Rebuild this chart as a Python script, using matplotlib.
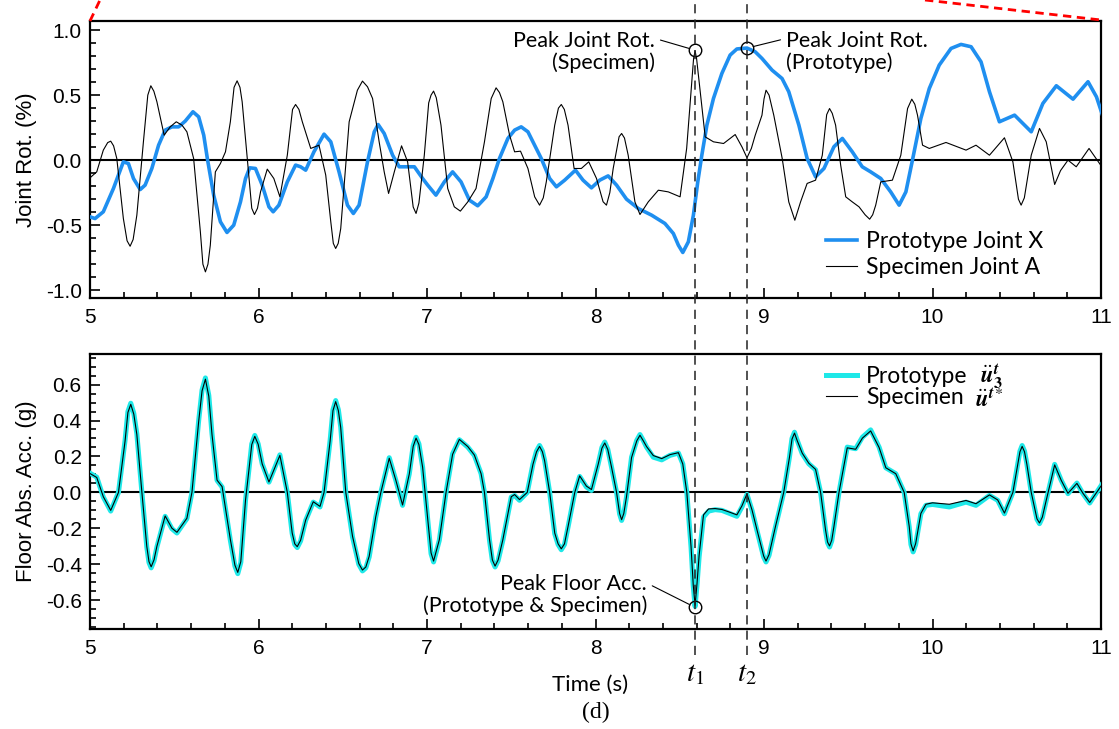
import matplotlib.pyplot as plt
import matplotlib.transforms as mtransforms
from matplotlib.lines import Line2D
from matplotlib.ticker import MultipleLocator, FuncFormatter

plt.rcParams['font.family'] = 'Liberation Sans'
plt.rcParams['mathtext.fontset'] = 'stix'
plt.rcParams['axes.unicode_minus'] = False

# ---- Joint rotation (%) ----
t_rot_x = [5.000, 5.030, 5.079, 5.139, 5.198, 5.228, 5.258, 5.298, 5.327, 5.367,
           5.407, 5.446, 5.486, 5.526, 5.565, 5.611, 5.645, 5.675, 5.698, 5.734,
           5.774, 5.813, 5.853, 5.893, 5.923, 5.948, 5.982, 6.022, 6.062, 6.087,
           6.121, 6.171, 6.220, 6.250, 6.280, 6.329, 6.389, 6.429, 6.478, 6.528,
           6.563, 6.597, 6.647, 6.687, 6.710, 6.746, 6.796, 6.835, 6.885, 6.925,
           6.974, 7.004, 7.053, 7.103, 7.152, 7.202, 7.252, 7.301, 7.351, 7.391,
           7.430, 7.480, 7.520, 7.559, 7.599, 7.639, 7.678, 7.728, 7.768, 7.817,
           7.881, 7.926, 7.976, 8.025, 8.075, 8.125, 8.184, 8.254, 8.333, 8.412,
           8.462, 8.492, 8.518, 8.551, 8.581, 8.607, 8.631, 8.661, 8.700, 8.750,
           8.799, 8.839, 8.899, 8.948, 8.988, 9.048, 9.107, 9.147, 9.207, 9.256,
           9.306, 9.356, 9.415, 9.465, 9.524, 9.583, 9.633, 9.693, 9.752, 9.802,
           9.842, 9.881, 9.931, 9.981, 10.040, 10.110, 10.169, 10.229, 10.288, 10.338,
           10.397, 10.487, 10.586, 10.655, 10.735, 10.834, 10.923, 10.973, 11.022]
rot_x = [-0.436, -0.449, -0.397, -0.218, -0.013, -0.026, -0.141, -0.226, -0.192, -0.064,
         0.115, 0.231, 0.256, 0.256, 0.300, 0.372, 0.333, 0.192, 0.000, -0.269,
         -0.474, -0.556, -0.500, -0.321, -0.141, -0.059, -0.064, -0.192, -0.359, -0.397,
         -0.346, -0.167, -0.038, -0.051, -0.077, 0.064, 0.200, 0.141, -0.090, -0.346,
         -0.410, -0.346, -0.013, 0.218, 0.274, 0.205, 0.038, -0.051, -0.051, -0.051,
         -0.141, -0.192, -0.269, -0.167, -0.090, -0.167, -0.308, -0.351, -0.282, -0.141,
         0.013, 0.167, 0.231, 0.256, 0.218, 0.115, 0.013, -0.141, -0.205, -0.154,
         -0.077, -0.154, -0.213, -0.154, -0.121, -0.192, -0.300, -0.372, -0.423, -0.487,
         -0.564, -0.654, -0.710, -0.628, -0.423, -0.167, 0.038, 0.269, 0.474, 0.667,
         0.808, 0.855, 0.862, 0.833, 0.782, 0.692, 0.628, 0.526, 0.269, 0.013,
         -0.128, -0.064, 0.103, 0.167, 0.064, -0.051, -0.090, -0.141, -0.244, -0.346,
         -0.244, 0.000, 0.321, 0.551, 0.731, 0.859, 0.890, 0.872, 0.756, 0.526,
         0.295, 0.346, 0.218, 0.436, 0.572, 0.469, 0.603, 0.487, 0.295]

t_rot_a = [5.000, 5.040, 5.079, 5.105, 5.123, 5.140, 5.159, 5.198, 5.220, 5.238,
           5.256, 5.278, 5.317, 5.343, 5.361, 5.379, 5.397, 5.440, 5.476, 5.512,
           5.546, 5.575, 5.615, 5.655, 5.670, 5.685, 5.700, 5.714, 5.744, 5.774,
           5.804, 5.833, 5.855, 5.873, 5.890, 5.903, 5.942, 5.960, 5.976, 5.994,
           6.012, 6.052, 6.091, 6.127, 6.171, 6.202, 6.220, 6.240, 6.260, 6.310,
           6.359, 6.399, 6.429, 6.444, 6.458, 6.473, 6.488, 6.538, 6.587, 6.617,
           6.647, 6.677, 6.716, 6.746, 6.772, 6.806, 6.849, 6.885, 6.918, 6.935,
           6.952, 6.984, 7.010, 7.024, 7.039, 7.055, 7.083, 7.123, 7.162, 7.198,
           7.242, 7.291, 7.341, 7.381, 7.410, 7.430, 7.450, 7.490, 7.520, 7.555,
           7.599, 7.639, 7.668, 7.690, 7.708, 7.758, 7.780, 7.797, 7.815, 7.837,
           7.873, 7.916, 7.960, 8.006, 8.045, 8.065, 8.085, 8.105, 8.140, 8.155,
           8.172, 8.194, 8.234, 8.264, 8.313, 8.373, 8.432, 8.502, 8.541, 8.571,
           8.582, 8.591, 8.600, 8.615, 8.651, 8.700, 8.760, 8.829, 8.870, 8.899,
           8.925, 8.948, 8.988, 9.000, 9.012, 9.030, 9.058, 9.108, 9.147, 9.183,
           9.217, 9.256, 9.306, 9.346, 9.372, 9.389, 9.405, 9.425, 9.455, 9.485,
           9.524, 9.564, 9.600, 9.627, 9.645, 9.663, 9.693, 9.762, 9.812, 9.852,
           9.877, 9.895, 9.911, 9.941, 9.981, 10.080, 10.199, 10.258, 10.338, 10.427,
           10.477, 10.510, 10.526, 10.545, 10.586, 10.635, 10.675, 10.725, 10.760, 10.804,
           10.853, 10.929, 11.012]
rot_a = [-0.136, -0.090, 0.077, 0.135, 0.146, 0.110, 0.013, -0.449, -0.620, -0.662,
         -0.610, -0.423, 0.141, 0.500, 0.572, 0.530, 0.449, 0.192, 0.256, 0.295,
         0.269, 0.218, 0.013, -0.551, -0.800, -0.859, -0.800, -0.654, -0.090, -0.026,
         0.064, 0.295, 0.560, 0.610, 0.560, 0.449, -0.115, -0.370, -0.418, -0.370,
         -0.244, -0.069, -0.141, -0.282, 0.038, 0.390, 0.428, 0.390, 0.295, 0.090,
         0.115, -0.115, -0.474, -0.640, -0.679, -0.640, -0.526, 0.295, 0.538, 0.608,
         0.564, 0.474, 0.141, -0.090, -0.256, -0.090, 0.110, -0.013, -0.360, -0.410,
         -0.330, 0.038, 0.440, 0.500, 0.531, 0.480, 0.269, -0.218, -0.359, -0.392,
         -0.321, -0.218, 0.141, 0.474, 0.556, 0.520, 0.449, 0.192, 0.064, 0.069,
         -0.064, -0.282, -0.346, -0.290, -0.167, 0.269, 0.400, 0.428, 0.390, 0.269,
         -0.064, -0.064, -0.013, -0.141, -0.320, -0.346, -0.250, -0.064, 0.180, 0.205,
         0.170, 0.038, -0.321, -0.418, -0.321, -0.231, -0.244, -0.282, 0.090, 0.603,
         0.780, 0.840, 0.780, 0.603, 0.179, 0.141, 0.128, 0.197, 0.100, 0.018,
         0.090, 0.192, 0.346, 0.470, 0.538, 0.500, 0.346, 0.013, -0.321, -0.462,
         -0.321, -0.179, -0.154, 0.038, 0.350, 0.397, 0.360, 0.269, -0.038, -0.282,
         -0.321, -0.359, -0.420, -0.454, -0.420, -0.346, -0.167, -0.154, 0.038, 0.397,
         0.469, 0.430, 0.346, 0.115, 0.090, 0.136, 0.077, 0.115, 0.038, 0.172,
         -0.013, -0.300, -0.346, -0.290, 0.038, 0.244, 0.141, -0.187, -0.080, 0.000,
         -0.051, 0.090, -0.064]

# ---- Floor absolute acceleration (g) ----
t_acc = [5.000, 5.040, 5.079, 5.123, 5.169, 5.208, 5.225, 5.242, 5.260, 5.278,
         5.308, 5.337, 5.350, 5.363, 5.380, 5.397, 5.446, 5.486, 5.516, 5.575,
         5.605, 5.645, 5.665, 5.685, 5.705, 5.724, 5.754, 5.784, 5.833, 5.860,
         5.877, 5.895, 5.923, 5.960, 5.978, 5.998, 6.022, 6.062, 6.127, 6.171,
         6.200, 6.215, 6.230, 6.250, 6.280, 6.325, 6.365, 6.389, 6.425, 6.442,
         6.458, 6.474, 6.488, 6.518, 6.558, 6.595, 6.617, 6.637, 6.657, 6.696,
         6.726, 6.776, 6.815, 6.855, 6.895, 6.918, 6.935, 6.952, 6.974, 7.024,
         7.039, 7.073, 7.113, 7.152, 7.192, 7.242, 7.281, 7.321, 7.341, 7.371,
         7.388, 7.404, 7.422, 7.450, 7.500, 7.520, 7.549, 7.595, 7.629, 7.650,
         7.668, 7.685, 7.698, 7.728, 7.758, 7.778, 7.797, 7.816, 7.837, 7.877,
         7.906, 7.946, 7.976, 8.016, 8.038, 8.055, 8.073, 8.095, 8.125, 8.143,
         8.155, 8.168, 8.184, 8.214, 8.245, 8.264, 8.283, 8.303, 8.343, 8.393,
         8.442, 8.492, 8.518, 8.542, 8.567, 8.580, 8.591, 8.602, 8.615, 8.641,
         8.671, 8.710, 8.750, 8.790, 8.839, 8.869, 8.899, 8.929, 8.958, 8.988,
         8.998, 9.012, 9.030, 9.068, 9.117, 9.151, 9.166, 9.181, 9.197, 9.227,
         9.266, 9.306, 9.336, 9.365, 9.377, 9.389, 9.402, 9.415, 9.445, 9.494,
         9.544, 9.584, 9.633, 9.683, 9.723, 9.782, 9.832, 9.862, 9.872, 9.885,
         9.900, 9.931, 9.961, 10.000, 10.100, 10.199, 10.258, 10.338, 10.387, 10.427,
         10.477, 10.506, 10.519, 10.532, 10.546, 10.560, 10.586, 10.620, 10.635, 10.652,
         10.675, 10.725, 10.764, 10.804, 10.857, 10.893, 10.933, 11.008]
proto_acc = [0.107, 0.085, -0.026, -0.104, 0.000, 0.289, 0.450, 0.496, 0.440, 0.326,
             0.000, -0.304, -0.390, -0.420, -0.380, -0.304, -0.133, -0.202, -0.226, -0.146,
             0.000, 0.400, 0.570, 0.637, 0.540, 0.326, 0.067, 0.030, -0.267, -0.410,
             -0.452, -0.390, -0.044, 0.270, 0.317, 0.270, 0.159, 0.057, 0.209, 0.000,
             -0.230, -0.290, -0.307, -0.270, -0.156, -0.054, -0.081, 0.000, 0.289, 0.460,
             0.511, 0.460, 0.363, 0.000, -0.248, -0.400, -0.437, -0.420, -0.359, -0.137,
             0.000, 0.193, 0.067, -0.072, 0.104, 0.260, 0.307, 0.270, 0.141, -0.341,
             -0.387, -0.267, 0.000, 0.215, 0.293, 0.252, 0.206, 0.104, 0.000, -0.267,
             -0.380, -0.415, -0.380, -0.267, -0.026, -0.017, -0.044, 0.000, 0.159, 0.230,
             0.261, 0.230, 0.178, 0.000, -0.230, -0.290, -0.319, -0.290, -0.193, 0.000,
             0.089, 0.030, 0.011, 0.159, 0.250, 0.280, 0.240, 0.141, 0.000, -0.120,
             -0.156, -0.120, -0.026, 0.196, 0.290, 0.322, 0.290, 0.252, 0.196, 0.181,
             0.206, 0.219, 0.159, 0.000, -0.304, -0.520, -0.635, -0.520, -0.359, -0.137,
             -0.104, -0.096, -0.100, -0.115, -0.133, -0.081, -0.011, -0.100, -0.211, -0.322,
             -0.360, -0.387, -0.350, -0.193, 0.000, 0.196, 0.300, 0.335, 0.290, 0.215,
             0.159, 0.126, 0.000, -0.211, -0.280, -0.304, -0.270, -0.193, 0.000, 0.252,
             0.243, 0.307, 0.348, 0.252, 0.137, 0.104, 0.000, -0.193, -0.290, -0.331,
             -0.290, -0.119, -0.072, -0.067, -0.081, -0.054, -0.072, -0.017, -0.044, -0.119,
             0.000, 0.159, 0.230, 0.261, 0.230, 0.159, 0.000, -0.150, -0.174, -0.140,
             -0.044, 0.156, 0.067, -0.007, 0.052, -0.007, -0.059, 0.048]
spec_acc = [0.105, 0.083, -0.024, -0.100, 0.000, 0.285, 0.445, 0.490, 0.435, 0.322,
            0.000, -0.300, -0.385, -0.414, -0.375, -0.300, -0.131, -0.199, -0.222, -0.144,
            0.000, 0.395, 0.565, 0.630, 0.535, 0.322, 0.068, 0.032, -0.262, -0.405,
            -0.445, -0.385, -0.043, 0.266, 0.312, 0.268, 0.158, 0.058, 0.206, 0.000,
            -0.226, -0.286, -0.302, -0.266, -0.154, -0.052, -0.078, 0.000, 0.285, 0.455,
            0.505, 0.455, 0.360, 0.000, -0.244, -0.396, -0.432, -0.415, -0.355, -0.135,
            0.000, 0.190, 0.068, -0.070, 0.103, 0.256, 0.302, 0.266, 0.140, -0.336,
            -0.382, -0.264, 0.000, 0.212, 0.295, 0.255, 0.208, 0.104, 0.000, -0.263,
            -0.376, -0.410, -0.376, -0.264, -0.024, -0.012, -0.040, 0.000, 0.157, 0.226,
            0.256, 0.226, 0.176, 0.000, -0.226, -0.286, -0.314, -0.286, -0.190, 0.000,
            0.092, 0.035, 0.016, 0.157, 0.246, 0.275, 0.238, 0.141, 0.000, -0.117,
            -0.152, -0.117, -0.024, 0.194, 0.287, 0.318, 0.288, 0.255, 0.205, 0.188,
            0.210, 0.221, 0.158, 0.000, -0.300, -0.515, -0.628, -0.512, -0.350, -0.125,
            -0.092, -0.090, -0.095, -0.108, -0.125, -0.075, -0.008, -0.098, -0.207, -0.316,
            -0.354, -0.382, -0.346, -0.190, 0.000, 0.194, 0.296, 0.330, 0.288, 0.218,
            0.162, 0.128, 0.000, -0.207, -0.276, -0.298, -0.266, -0.190, 0.000, 0.248,
            0.240, 0.302, 0.342, 0.250, 0.137, 0.104, 0.000, -0.190, -0.285, -0.325,
            -0.285, -0.117, -0.066, -0.058, -0.066, -0.045, -0.063, -0.014, -0.042, -0.115,
            0.000, 0.157, 0.226, 0.256, 0.226, 0.157, 0.000, -0.147, -0.170, -0.137,
            -0.044, 0.153, 0.067, -0.005, 0.050, -0.005, -0.056, 0.046]

t1 = 8.59   # time of peak specimen rotation / peak floor acc.
t2 = 8.90   # time of peak prototype rotation
peak_rot_spec = 0.846
peak_rot_proto = 0.862
peak_acc = -0.639

W, H = 1119, 729
fig = plt.figure(figsize=(W / 100, H / 100), dpi=100)
ax1 = fig.add_axes([90 / W, 1 - 298 / H, 1011 / W, 277 / H])
ax2 = fig.add_axes([90 / W, 1 - 629 / H, 1011 / W, 275 / H])

ax1.plot(t_rot_x, rot_x, color='#1f8ff0', lw=2.6, label='Prototype Joint X', zorder=3)
ax1.plot(t_rot_a, rot_a, color='black', lw=0.8, label='Specimen Joint A', zorder=4)
ax2.plot(t_acc, proto_acc, color='#1ee8e8', lw=3.6, zorder=3, label='Prototype')
ax2.plot(t_acc, spec_acc, color='black', lw=0.8, zorder=4, label='Specimen')

ax1.set_ylim(-1.06, 1.07)
ax2.set_ylim(-0.76, 0.77)
ax1.yaxis.set_major_locator(MultipleLocator(0.5))
ax1.yaxis.set_minor_locator(MultipleLocator(0.1))
ax2.yaxis.set_major_locator(MultipleLocator(0.2))
ax2.yaxis.set_minor_locator(MultipleLocator(0.05))

for ax in (ax1, ax2):
    ax.set_xlim(5, 11)
    ax.xaxis.set_major_locator(MultipleLocator(1))
    ax.xaxis.set_minor_locator(MultipleLocator(0.2))
    ax.xaxis.set_major_formatter(FuncFormatter(lambda v, p: f'{v:.0f}'))
    ax.yaxis.set_major_formatter(FuncFormatter(lambda v, p: f'{v:.1f}'))
    ax.tick_params(which='both', direction='in', top=False, right=False, width=1.2)
    ax.tick_params(which='major', length=7, labelsize=15, pad=6)
    ax.tick_params(axis='x', which='major', pad=7)
    ax.tick_params(which='minor', length=4)
    ax.axhline(0, color='black', lw=1.5, zorder=2)
    for s in ax.spines.values():
        s.set_linewidth(1.6)

ax1.set_ylabel('Joint Rot. (%)', fontsize=16)
ax2.set_ylabel('Floor Abs. Acc. (g)', fontsize=16)
ax1.yaxis.set_label_coords(-0.052, 0.5)
ax2.yaxis.set_label_coords(-0.052, 0.5)

leg_kw = dict(frameon=False, prop=dict(family='Lato', size=16.5), handlelength=1.35,
              handletextpad=0.4, borderpad=0, borderaxespad=0)
ax1.legend(loc='upper left', bbox_to_anchor=((826 - 90) / 1011, (298 - 231) / 277),
           labelspacing=0.22, **leg_kw)
ax2.legend(loc='upper left', bbox_to_anchor=((826 - 90) / 1011, (629 - 366) / 275),
           labelspacing=0.0, **leg_kw)
# response symbols next to the lower legend entries
fig.text(980 / W, 1 - 383 / H, r'$\ddot{\mathbfit{u}}_{\mathbf{3}}^{\mathbfit{t}}$',
         ha='left', va='baseline', fontsize=16.5)
fig.text(975 / W, 1 - 407 / H, r'$\ddot{\mathbfit{u}}^{\mathbfit{t}*}$',
         ha='left', va='baseline', fontsize=16.5)

# peak markers and callouts
mk = dict(marker='o', ms=9, mfc='none', mec='black', mew=1.0, zorder=6)
ax1.plot([t1], [peak_rot_spec], **mk)
ax1.plot([t2], [peak_rot_proto], **mk)
ax2.plot([t1], [peak_acc], **mk)

ann = dict(textcoords='figure pixels', va='center', fontsize=15.5, family='Lato', linespacing=1.1)
ax1.annotate('Peak Joint Rot.\n(Specimen)', xy=(t1, peak_rot_spec), xytext=(655, H - 52), ha='right',
             arrowprops=dict(arrowstyle='-', color='black', lw=0.8, relpos=(1.0, 0.82),
                             shrinkA=2, shrinkB=4.5), **ann)
ax1.annotate('Peak Joint Rot.\n(Prototype)', xy=(t2, peak_rot_proto), xytext=(786, H - 52), ha='left',
             arrowprops=dict(arrowstyle='-', color='black', lw=0.8, relpos=(0.0, 0.82),
                             shrinkA=2, shrinkB=4.5), **ann)
ax2.annotate('Peak Floor Acc.\n(Prototype & Specimen)', xy=(t1, peak_acc), xytext=(647, H - 595),
             ha='right', arrowprops=dict(arrowstyle='-', color='black', lw=0.8, relpos=(1.0, 0.78),
                                         shrinkA=2, shrinkB=4.5), **ann)

# time markers spanning both panels
trans = mtransforms.blended_transform_factory(ax1.transData, fig.transFigure)
for tv in (t1, t2):
    fig.add_artist(Line2D([tv, tv], [1 - 655 / H, 1.0], transform=trans, color='#222222',
                          lw=1.1, ls=(0, (6, 4)), zorder=5))
fig.text(t1, 1 - 673 / H, r'$t_1$', transform=trans, ha='center', va='center', fontsize=21)
fig.text(t2, 1 - 673 / H, r'$t_2$', transform=trans, ha='center', va='center', fontsize=21)

fig.text(590 / W, 1 - 685 / H, 'Time (s)', ha='center', va='center', fontsize=16, family='Lato')
fig.text(596 / W, 1 - 712 / H, '(d)', ha='center', va='center', fontsize=17, family='Liberation Serif')

# zoom indicator lines from the panel above
red = dict(color='red', lw=2, ls=(0, (3, 2)), transform=fig.transFigure)
fig.add_artist(Line2D([90 / W, 100 / W], [1 - 21 / H, 1.0], **red))
fig.add_artist(Line2D([925 / W, 1101 / W], [1.0, 1 - 20 / H], **red))

fig.savefig('out.png', dpi=100)
